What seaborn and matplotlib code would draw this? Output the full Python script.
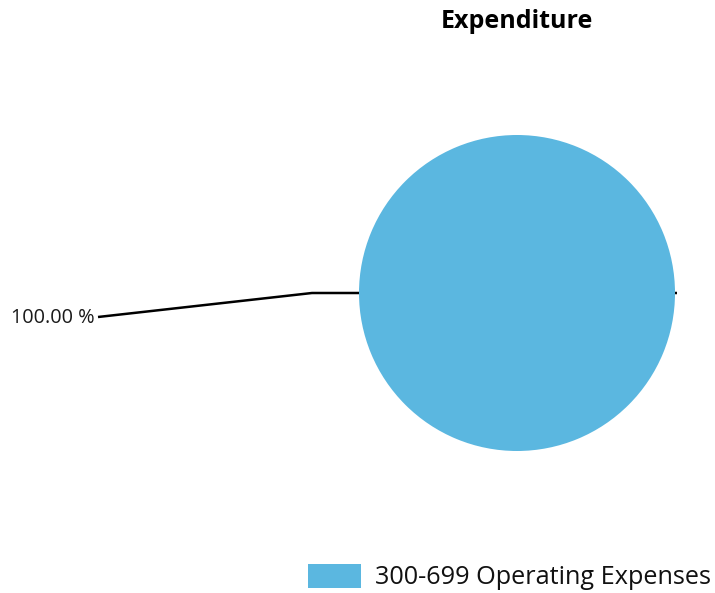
import matplotlib
matplotlib.use("Agg")
import matplotlib.pyplot as plt
import seaborn as sns

categories = ["300-699 Operating Expenses"]
values = [100.0]
colors = ["#5bb7e0"]
title = "Expenditure"

sns.set_theme(style="white")
plt.rcParams["font.family"] = ["Open Sans", "DejaVu Sans"]

W, H = 715, 593
fig = plt.figure(figsize=(W / 100, H / 100), dpi=100)
ax = fig.add_axes([0, 0, 1, 1])

cx, cy, r = 517, 293, 158
wedges, _ = ax.pie(values, colors=colors, center=(cx, cy), radius=r,
                   startangle=0, counterclock=True,
                   wedgeprops=dict(linewidth=0, zorder=3))
ax.set_xlim(0, W)
ax.set_ylim(H, 0)
ax.set_aspect("equal")
ax.axis("off")

total = sum(values)
pct_text = f"{values[0] / total * 100:.2f} %"

# leader line from the slice edge to the percentage label
ax.plot([cx + r + 2, 312, 98], [cy, cy, 317], color="black", lw=1.8,
        zorder=2, solid_capstyle="butt")
ax.text(95, 318, pct_text, ha="right", va="center", fontsize=14.3,
        color="#1a1a1a")

ax.text(cx, 21, title, ha="center", va="center", fontsize=18,
        fontweight="bold", color="black")

leg = ax.legend(wedges, categories, loc="center right",
                bbox_to_anchor=(711 / W, 1 - 577 / H),
                bbox_transform=fig.transFigure,
                frameon=False, fontsize=18.2, handlelength=2.1,
                handleheight=1.1, handletextpad=0.55, borderaxespad=0,
                borderpad=0)
for t in leg.get_texts():
    t.set_color("#111111")

fig.savefig("out.png", dpi=100)
